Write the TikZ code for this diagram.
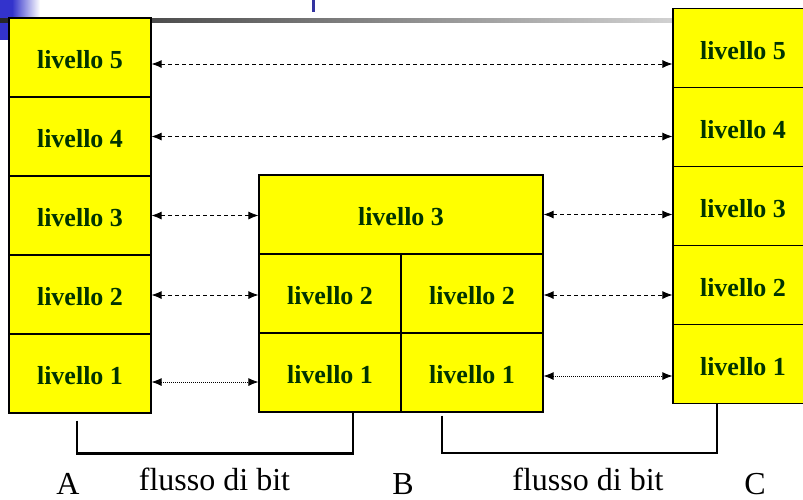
\documentclass[tikz,border=0pt]{standalone}
\usepackage{fontspec}
\setmainfont{Liberation Serif}
\usetikzlibrary{arrows.meta,calc}
\definecolor{dkgreen}{RGB}{0,51,0}
\definecolor{boxyellow}{RGB}{255,255,0}
\definecolor{hdrblue}{RGB}{51,51,204}
\definecolor{markblue}{RGB}{51,51,160}
\begin{document}
\begin{tikzpicture}[x=1pt,y=-1pt,
  box/.style={draw=black, fill=boxyellow, line width=1.2pt, minimum width=142pt, minimum height=79pt,
    inner sep=0pt, text=dkgreen, text height=22pt, text depth=0pt, font=\fontsize{26}{30}\selectfont\bfseries},
  arr/.style={{Latex[length=10pt,width=8pt]}-{Latex[length=10pt,width=8pt]}, line width=0.8pt, dash pattern=on 4pt off 3pt},
  arrdot/.style={arr, dash pattern=on 1pt off 1pt},
  brk/.style={draw=black, line width=2.4pt},
  lbl/.style={inner sep=0pt, font=\fontsize{32}{36}\selectfont, anchor=base}]
\useasboundingbox (0,0) rectangle (803,499);
% header decorations
\fill[hdrblue] (0,0) rectangle (12,40);
\shade[left color=hdrblue, right color=white] (12,0) rectangle (40,40);
\shade[left color=black!85, right color=black!5] (0,18.5) rectangle (803,22.5);
\fill[markblue] (312,0) rectangle (315,12);
% column A
\node[box] (A5) at (80,57.5) {livello 5};
\node[box] (A4) at (80,136.5) {livello 4};
\node[box] (A3) at (80,215.5) {livello 3};
\node[box] (A2) at (80,294.5) {livello 2};
\node[box] (A1) at (80,373.5) {livello 1};
% column B
\node[box, minimum width=284pt] (B3) at (401,214.5) {livello 3};
\node[box] (B2L) at (330,293.5) {livello 2};
\node[box] (B2R) at (472,293.5) {livello 2};
\node[box] (B1L) at (330,372.5) {livello 1};
\node[box] (B1R) at (472,372.5) {livello 1};
% column C
\node[box, minimum width=140pt] (C5) at (743,48) {livello 5};
\node[box, minimum width=140pt] (C4) at (743,127) {livello 4};
\node[box, minimum width=140pt] (C3) at (743,206) {livello 3};
\node[box, minimum width=140pt] (C2) at (743,285) {livello 2};
\node[box, minimum width=140pt] (C1) at (743,364) {livello 1};
% arrows
\draw[arr] ($(A5.east)+(0,6.5)$) -- ($(A5.east -| C5.west)+(0,6.5)$);
\draw[arr] (A4.east) -- (A4.east -| C4.west);
\draw[arr] (A3.east) -- (A3.east -| B3.west);
\draw[arr] (B3.east) -- (B3.east -| C3.west);
\draw[arr] ($(A2.east)+(0,0.5)$) -- ($(A2.east -| B2L.west)+(0,0.5)$);
\draw[arr] ($(B2R.east)+(0,1.5)$) -- ($(B2R.east -| C2.west)+(0,1.5)$);
\draw[arrdot] ($(A1.east)+(0,8.5)$) -- ($(A1.east -| B1L.west)+(0,8.5)$);
\draw[arrdot] ($(B1R.east)+(0,3.5)$) -- ($(B1R.east -| C1.west)+(0,3.5)$);
% brackets
\draw[brk] ($(A1.south)+(-3,7)$) |- ($(B1L.south)+(23,41)$) -- ($(B1L.south)+(23,0)$);
\draw[brk] ($(B1R.south)+(-30,3)$) |- ($(C1.south)+(-26,49)$) -- ($(C1.south)+(-26,0)$);
% labels
\node[lbl] (lA) at (68,494) {A};
\node[lbl] (f1) at (214.5,490) {flusso di bit};
\node[lbl] (lB) at (403,494) {B};
\node[lbl] (f2) at (588,490) {flusso di bit};
\node[lbl] (lC) at (755,494) {C};
\end{tikzpicture}
\end{document}
